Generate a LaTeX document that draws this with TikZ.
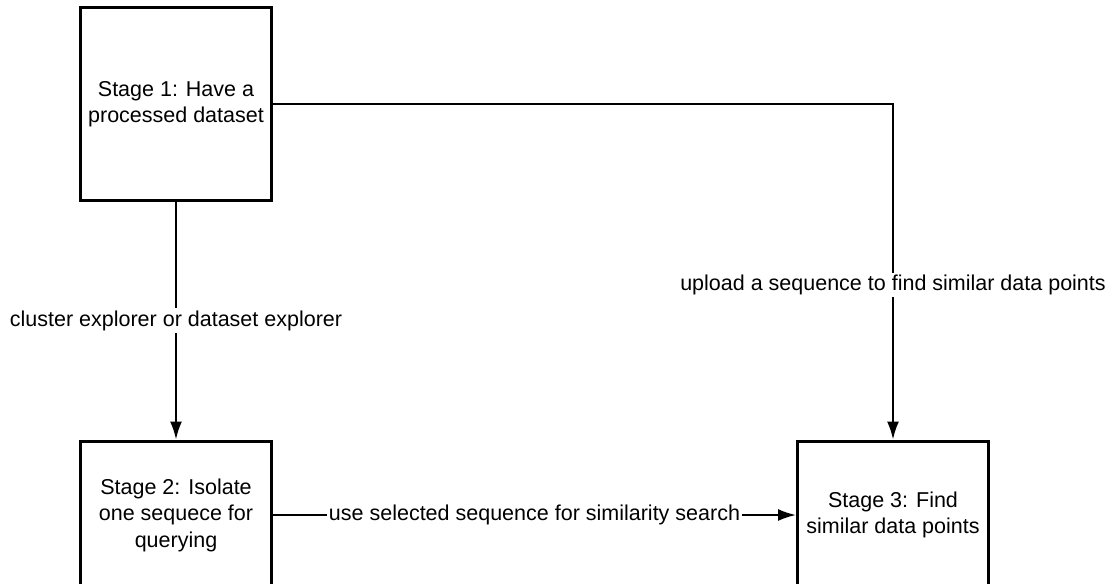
\documentclass[tikz,border=0pt]{standalone}
\usepackage{fontspec}
\setmainfont{Liberation Sans}
\usetikzlibrary{arrows.meta}

\begin{document}
\begin{tikzpicture}[>={Latex[length=9pt,width=6pt]},x=0.5pt,y=-0.5pt,
	stage/.style={draw,line width=1.5pt,minimum width=95.5pt,align=center,
		font=\fontsize{10.75}{13.25}\selectfont},
	lbl/.style={fill=white,inner sep=1pt,font=\fontsize{10.75}{13.25}\selectfont},
	link/.style={->,line width=1pt}]

\useasboundingbox (0,0) rectangle (1111,583);
\clip (0,0) rectangle (1111,583);

% the three stages
\node[stage,minimum height=96pt] (s1) at (176,104) {Stage 1: Have a\\processed dataset};
\node[stage,minimum height=74pt] (s2) at (176,515) {Stage 2: Isolate\\one sequece for\\querying};
\node[stage,minimum height=74pt] (s3) at (893,515) {Stage 3: Find\\similar data points};

% connectors
\draw[link] (s1) -- node[lbl] {cluster explorer or dataset explorer} (s2);
\draw[link] (s1.east) -| node[lbl,pos=0.77] {upload a sequence to find similar data points} (s3.north);
\draw[link] (s2) -- node[lbl] {use selected sequence for similarity search} (s3);

\end{tikzpicture}
\end{document}
